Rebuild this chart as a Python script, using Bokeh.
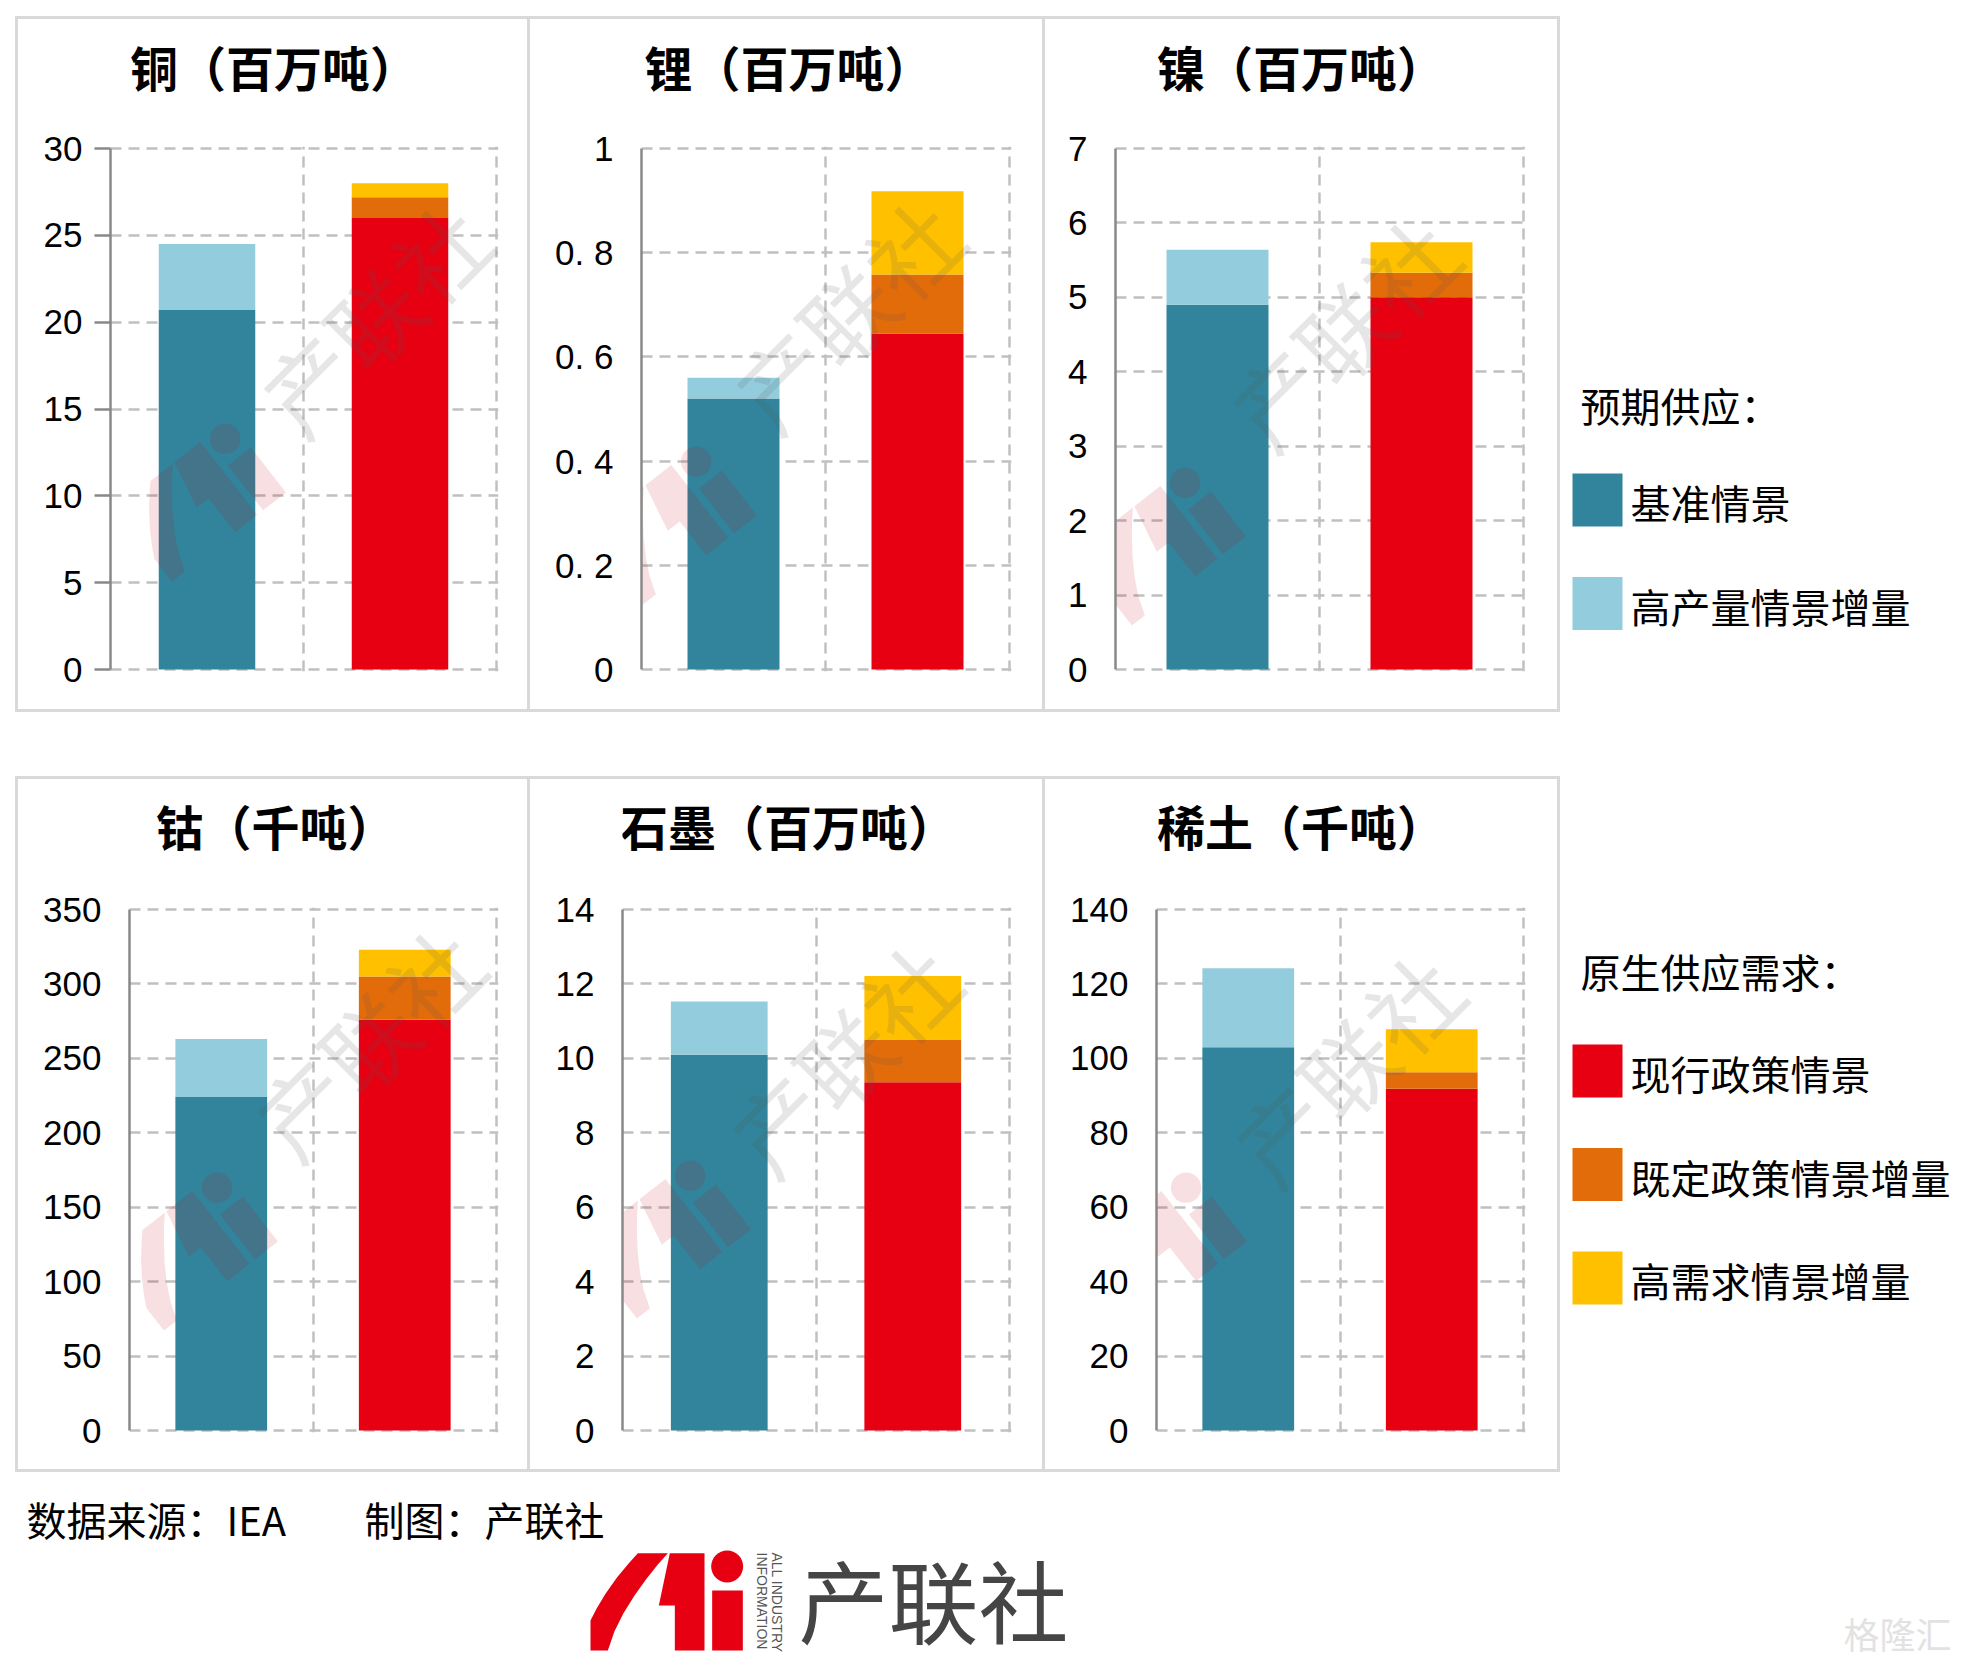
import math

from bokeh.core.properties import value
from bokeh.embed import file_html
from bokeh.layouts import column, row
from bokeh.models import ColumnDataSource, Div, FixedTicker, Grid, Label, Range1d, Spacer
from bokeh.plotting import figure
from bokeh.resources import INLINE

# ---------------- data (source: IEA) ----------------
titles = ["铜（百万吨）", "锂（百万吨）", "镍（百万吨）", "钴（千吨）", "石墨（百万吨）", "稀土（千吨）"]
categories = ["预期供应", "原生供应需求"]
supply_names = ["基准情景", "高产量情景增量"]
demand_names = ["现行政策情景", "既定政策情景增量", "高需求情景增量"]

base_case = [20.7, 0.52, 4.9, 224, 10.1, 103]
high_production_add = [3.8, 0.04, 0.74, 39, 1.43, 21.2]
stated_policies = [26.0, 0.645, 5.0, 276, 9.36, 91.8]
announced_pledges_add = [1.2, 0.113, 0.33, 29, 1.15, 4.5]
high_demand_add = [0.8, 0.16, 0.41, 18, 1.7, 11.5]

axis_max = [30, 1, 7, 350, 14, 140]
axis_ticks = [
    [0, 5, 10, 15, 20, 25, 30],
    [0, 0.2, 0.4, 0.6, 0.8, 1],
    [0, 1, 2, 3, 4, 5, 6, 7],
    [0, 50, 100, 150, 200, 250, 300, 350],
    [0, 2, 4, 6, 8, 10, 12, 14],
    [0, 20, 40, 60, 80, 100, 120, 140],
]
lithium_tick_labels = ["0", "0. 2", "0. 4", "0. 6", "0. 8", "1"]

supply_colors = ["#31849b", "#93cddd"]
demand_colors = ["#e60012", "#e36c0a", "#ffc000"]

# ---------------- styling / geometry ----------------
CJK = "Noto Sans CJK SC"
CJK_TITLE = "Noto Sans CJK JP"
NUM = "Liberation Sans"
GRID_COLOR = "#c0c0c0"
AXIS_COLOR = "#898989"
BORDER = "#d9d9d9"

PANEL_H = 690
TITLE_H = 100
CHART_H = PANEL_H - TITLE_H
EDGE = 2  # extra pixels around the plot area so the outer dashed lines are drawn whole
panel_w = [509, 512, 512]
pad_left = [[92, 111, 70], [111, 92, 111]]
pad_right = [31, 33, 34]
pad_top = [29, 30]
pad_bottom = [40, 39]
title_y = [46, 45]
title_left = [129.5, 644, 1156.5, 155, 619.5, 1156.5]  # page pixels
col_x0 = [18, 530, 1045]
row_y0 = [19 + TITLE_H, 779 + TITLE_H]

# watermark placement (page pixels)
wm_text_pos = [(372, 316), (845, 312), (1341, 330), (366, 1040), (842, 1056), (1345, 1066)]
wm_logo_pos = [(200, 500), (671, 523), (1160, 544), (192, 1249), (665, 1237), (1161, 1249)]


# ---------------- logo outline (page pixels of the footer mark) ----------------
def _mark(pts):
    return [(x / 3 + 580, y / 3 + 1540) for x, y in pts]


def _circle(cx, cy, r, n=32):
    return [(cx + r * math.cos(2 * math.pi * k / n), cy + r * math.sin(2 * math.pi * k / n)) for k in range(n)]


logo_parts = [
    _mark([(30, 330), (30, 240), (48, 205), (75, 160), (110, 110), (145, 68), (172, 38),
           (262, 38), (232, 72), (198, 115), (162, 165), (128, 220), (102, 272), (82, 330)]),
    _mark([(268, 38), (372, 38), (372, 330), (283, 330), (283, 195), (235, 195)]),
    _mark([(395, 150), (487, 150), (487, 330), (395, 330)]),
    _mark(_circle(440, 78, 48)),
]
LOGO_CX, LOGO_CY = 666.2, 1601.3


def transformed_logo(cx, cy, scale, angle_deg):
    a = math.radians(angle_deg)
    out = []
    for part in logo_parts:
        pts = []
        for x, y in part:
            dx, dy = (x - LOGO_CX) * scale, (y - LOGO_CY) * scale
            rx = dx * math.cos(a) + dy * math.sin(a)
            ry = -dx * math.sin(a) + dy * math.cos(a)
            pts.append((cx + rx, cy + ry))
        out.append(pts)
    return out


def blank_canvas(width, height, left=0, right=0):
    # pixel canvas; x runs over the plot area only, which starts `left` px in
    p = figure(width=width, height=height, x_range=Range1d(left, width - right), y_range=Range1d(height, 0),
               x_axis_location=None, y_axis_location=None, toolbar_location=None,
               output_backend="svg", min_border=0, min_border_left=left, min_border_right=right,
               title=None)
    p.grid.visible = False
    p.outline_line_color = None
    p.background_fill_color = "white"
    p.border_fill_color = "white"
    return p


# ---------------- one mineral panel ----------------
def make_chart(i):
    r, c = divmod(i, 3)
    W, L, R = panel_w[c], pad_left[r][c], pad_right[c]
    T, B = pad_top[r], pad_bottom[r]
    fw, fh = W - L - R, CHART_H - T - B
    ymax = axis_max[i]
    ncat = len(categories)
    ypad = EDGE / fh * ymax
    xpad = EDGE / fw * ncat

    p = figure(width=W, height=CHART_H, x_range=Range1d(0, ncat + xpad), y_range=Range1d(-ypad, ymax + ypad),
               x_axis_location=None, y_axis_location="left", toolbar_location=None,
               output_backend="svg", title=None,
               min_border_left=L, min_border_right=R - EDGE, min_border_top=T - EDGE,
               min_border_bottom=B - EDGE)
    p.outline_line_color = None
    p.background_fill_color = "white"
    p.border_fill_color = "white"
    p.xgrid.visible = False

    ax = p.yaxis[0]
    ax.ticker = FixedTicker(ticks=axis_ticks[i])
    ax.bounds = (0, ymax)
    ax.axis_line_color = AXIS_COLOR
    ax.axis_line_width = 2.5
    ax.major_tick_line_color = AXIS_COLOR
    ax.major_tick_line_width = 2.5
    ax.major_tick_out = 16 if i == 0 else 0
    ax.major_tick_in = 0
    ax.minor_tick_line_color = None
    ax.major_label_text_font = NUM
    ax.major_label_text_font_size = "35px"
    ax.major_label_text_color = "#000000"
    ax.major_label_standoff = 12 if i == 0 else 28
    if i == 1:
        ax.major_label_overrides = {t: s for t, s in zip(axis_ticks[i], lithium_tick_labels)}

    yg = p.ygrid[0]
    yg.ticker = FixedTicker(ticks=axis_ticks[i])
    yg.bounds = (0, ncat)
    yg.grid_line_color = GRID_COLOR
    yg.grid_line_width = 2.5
    yg.grid_line_dash = "11 7"
    p.add_layout(Grid(dimension=0, ticker=FixedTicker(ticks=list(range(1, ncat + 1))), bounds=(0, ncat),
                      grid_line_color=GRID_COLOR, grid_line_width=2.5, grid_line_dash="11 7"))

    x_pos = [k + 0.5 for k in range(ncat)]
    left_src = ColumnDataSource(dict(x=[x_pos[0]], s0=[base_case[i]], s1=[high_production_add[i]]))
    p.vbar_stack(["s0", "s1"], x="x", width=0.5, color=supply_colors, line_color=None, source=left_src)
    right_src = ColumnDataSource(dict(x=[x_pos[1]], d0=[stated_policies[i]], d1=[announced_pledges_add[i]],
                                      d2=[high_demand_add[i]]))
    p.vbar_stack(["d0", "d1", "d2"], x="x", width=0.5, color=demand_colors, line_color=None, source=right_src)

    # page pixel -> data coordinate helpers for the watermark
    fl = col_x0[c] + L
    fb = row_y0[r] + T + fh

    def to_data(px, py):
        return (px - fl) / fw * ncat, (fb - py) / fh * ymax

    xs, ys = [], []
    for part in transformed_logo(*wm_logo_pos[i], 0.95, 38):
        d = [to_data(px, py) for px, py in part]
        xs.append([q[0] for q in d])
        ys.append([q[1] for q in d])
    p.patches(xs, ys, fill_color="#c80014", fill_alpha=0.12, line_color=None)

    wx, wy = to_data(*wm_text_pos[i])
    p.add_layout(Label(x=wx, y=wy, text="产联社", angle=math.pi / 4, text_align="center",
                       text_baseline="middle", text_font=CJK, text_font_size="92px",
                       text_color="#5a5a5a", text_alpha=0.15))

    # heading strip; its plot area lines up with the chart's plot area below it
    head = blank_canvas(W, TITLE_H, left=L, right=R - EDGE)
    head.text(x=[title_left[i] - col_x0[c]], y=[title_y[r]], text=[titles[i]], text_align="left",
              text_baseline="middle", text_font=value(CJK_TITLE), text_font_size="48px",
              text_font_style="bold", text_color="#000000")
    return column(head, p)


charts = [make_chart(i) for i in range(6)]


# ---------------- legends ----------------
def make_legend(height, title, names, colors, title_y_px, first_top):
    p = blank_canvas(401, height)
    step, sw_h = 103.5, 53
    tops = [first_top + k * step for k in range(len(names))]
    p.quad(left=12, right=62, top=tops, bottom=[t + sw_h for t in tops], fill_color=colors, line_color=None)
    p.text(x=[70] * len(names), y=[t + sw_h / 2 + 2 for t in tops], text=names, text_font=value(CJK),
           text_font_size="40px", text_baseline="middle", text_align="left", text_color="#000000")
    p.text(x=[20], y=[title_y_px], text=[title], text_font=value(CJK), text_font_size="40px",
           text_baseline="middle", text_align="left", text_color="#000000")
    return p


legend_top = make_legend(696, "预期供应：", supply_names, supply_colors, 388, 457)
legend_bottom = make_legend(696, "原生供应需求：", demand_names, demand_colors, 194, 268)

# ---------------- footer ----------------
FOOT_Y0 = 1472
footer = blank_canvas(1961, 196)
footer.text(x=[26, 364], y=[46, 46], text=["数据来源：IEA", "制图：产联社"], text_font=value(CJK),
            text_font_size="40px", text_baseline="middle", text_align="left", text_color="#000000")
footer.patches([[x for x, _ in part] for part in logo_parts],
               [[y - FOOT_Y0 for _, y in part] for part in logo_parts],
               fill_color="#e60012", line_color=None)
footer.text(x=[776, 761], y=[1552 - FOOT_Y0] * 2, text=["ALL INDUSTRY", "INFORMATION"], angle=-math.pi / 2,
            text_font=value(NUM), text_font_size="14px", text_baseline="middle", text_align="left",
            text_color="#555555")
footer.text(x=[798], y=[1597 - FOOT_Y0], text=["产联社"], text_font=value(CJK), text_font_size="90px",
            text_baseline="middle", text_align="left", text_color="#454545")
footer.text(x=[1843], y=[1632 - FOOT_Y0], text=["格隆汇"], text_font=value(CJK), text_font_size="36px",
            text_baseline="middle", text_align="left", text_color="#e2e2e2")


# ---------------- page layout with panel frames ----------------
def hline():
    return Div(text="", width=1545, height=3, margin=0, styles={"background-color": BORDER})


def vline():
    return Div(text="", width=3, height=PANEL_H, margin=0, styles={"background-color": BORDER})


def block(c3):
    return column(hline(), row(vline(), c3[0], vline(), c3[1], vline(), c3[2], vline()), hline())


page = column(
    Spacer(width=1961, height=16),
    row(Spacer(width=15, height=696), block(charts[:3]), legend_top),
    Spacer(width=1961, height=64),
    row(Spacer(width=15, height=696), block(charts[3:]), legend_bottom),
    footer,
)

with open("out.html", "w") as f:
    f.write(file_html(page, INLINE))
